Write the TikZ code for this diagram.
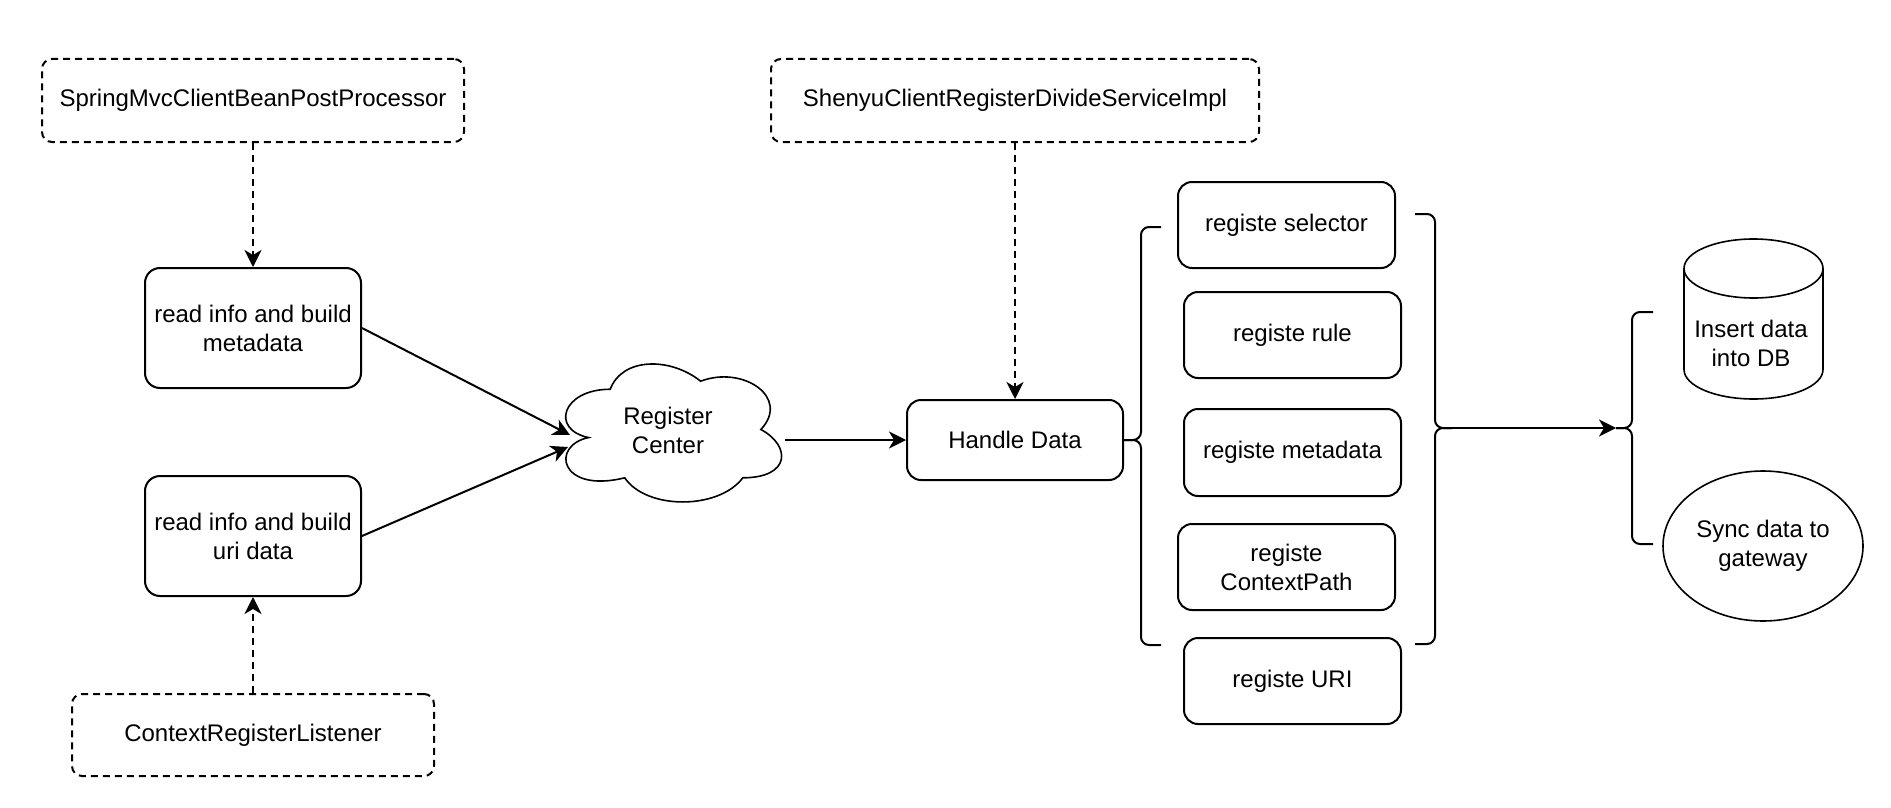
\documentclass[tikz,border=0pt]{standalone}
\usepackage{fontspec}
\setmainfont{Liberation Sans}
\usetikzlibrary{arrows.meta,shapes.geometric}
\begin{document}
\begin{tikzpicture}[x=1pt,y=-1pt,
  every node/.style={font=\fontsize{24}{29}\selectfont, text=black, align=center, inner sep=0pt},
  box/.style={draw, line width=2pt, rounded corners=15pt, minimum width=216pt, minimum height=120pt},
  dbox/.style={draw, line width=2pt, rounded corners=10pt, dash pattern=on 7pt off 5pt, minimum height=83pt},
  rbox/.style={draw, line width=2pt, rounded corners=14pt, minimum width=217pt, minimum height=86pt},
  arr/.style={line width=2pt, -{Stealth[length=17pt,width=17pt,inset=5pt]}},
  darr/.style={arr, dash pattern=on 7pt off 5pt},
  brace/.style={line width=2pt, rounded corners=8pt},
  thin shape/.style={line width=1.6pt}
]
\useasboundingbox (0,0) rectangle (1891,808);

% left column
\node[dbox, minimum width=422pt] (sp) at (253,100.5) {SpringMvcClientBeanPostProcessor};
\node[box] (md) at (253,328) {read info and build\\metadata};
\node[box] (ur) at (253,536) {read info and build\\uri data};
\node[dbox, minimum width=362pt, minimum height=82pt] (cr) at (253,735) {ContextRegisterListener};

% register center cloud
\draw[thin shape, shift={(550,349)}, x=241pt, y=-161pt]
  (0.25,0.25) .. controls (0.05,0.25) and (0,0.5) .. (0.16,0.55)
  .. controls (0,0.6) and (0.04,0.9) .. (0.31,0.8)
  .. controls (0.4,1) and (0.7,1) .. (0.8,0.8)
  .. controls (1,0.8) and (1,0.6) .. (0.875,0.5)
  .. controls (1,0.3) and (0.8,0.1) .. (0.625,0.2)
  .. controls (0.5,0.05) and (0.3,0.05) .. (0.25,0.25) -- cycle;
\node[minimum width=241pt, minimum height=161pt] (rc) at (668,430) {Register\\Center};
\coordinate (cin1) at (570,435);
\coordinate (cin2) at (568,447);
\coordinate (cout) at (785,440);

% handle data
\node[dbox, minimum width=488pt] (sh) at (1015,100.5) {ShenyuClientRegisterDivideServiceImpl};
\node[draw, line width=2pt, rounded corners=14pt, minimum width=216pt, minimum height=80pt] (hd) at (1015,440) {Handle Data};

% register boxes
\node[rbox] (rs) at (1286.5,225) {registe selector};
\node[rbox] (rr) at (1292.5,335) {registe rule};
\node[rbox, minimum height=87pt] (rm) at (1292.5,452.5) {registe metadata};
\node[rbox] (rp) at (1286.5,567) {registe\\ContextPath};
\node[rbox] (ru) at (1292.5,681) {registe URI};

% outputs
\draw[thin shape] (1753.5,268.5) ellipse [x radius=69.5pt, y radius=29.5pt];
\draw[thin shape] (1684,268.5) -- (1684,369.5)
  arc[start angle=180, end angle=360, x radius=69.5pt, y radius=29.5pt] -- (1823,268.5);
\node (db) at (1751,343) {Insert data\\into DB};
\node[draw, ellipse, thin shape, minimum width=200pt, minimum height=150pt] (sy) at (1763,546) {Sync data to\\gateway};

% braces
\coordinate (b1tip) at (1123,440);
\draw[brace] (1161,227) -- (1141,227) -- (1141,440) -- (b1tip);
\draw[brace] (1161,645) -- (1141,645) -- (1141,440) -- (b1tip);
\coordinate (b2tip) at (1452,428);
\draw[brace] (1415,214) -- (1435,214) -- (1435,428) -- (b2tip);
\draw[brace] (1415,644) -- (1435,644) -- (1435,428) -- (b2tip);
\coordinate (b3tip) at (1616,428);
\draw[brace] (1653,312) -- (1632,312) -- (1632,428) -- (b3tip);
\draw[brace] (1653,544) -- (1632,544) -- (1632,428) -- (b3tip);

% connectors
\draw[darr] (sp.south) -- (md.north);
\draw[darr] (cr.north) -- (ur.south);
\draw[darr] (sh.south) -- (hd.north);
\draw[arr] (md.east) -- (cin1);
\draw[arr] (ur.east) -- (cin2);
\draw[arr] (cout) -- (hd.west);
\draw[arr] (b2tip) -- (b3tip);
\end{tikzpicture}
\end{document}
